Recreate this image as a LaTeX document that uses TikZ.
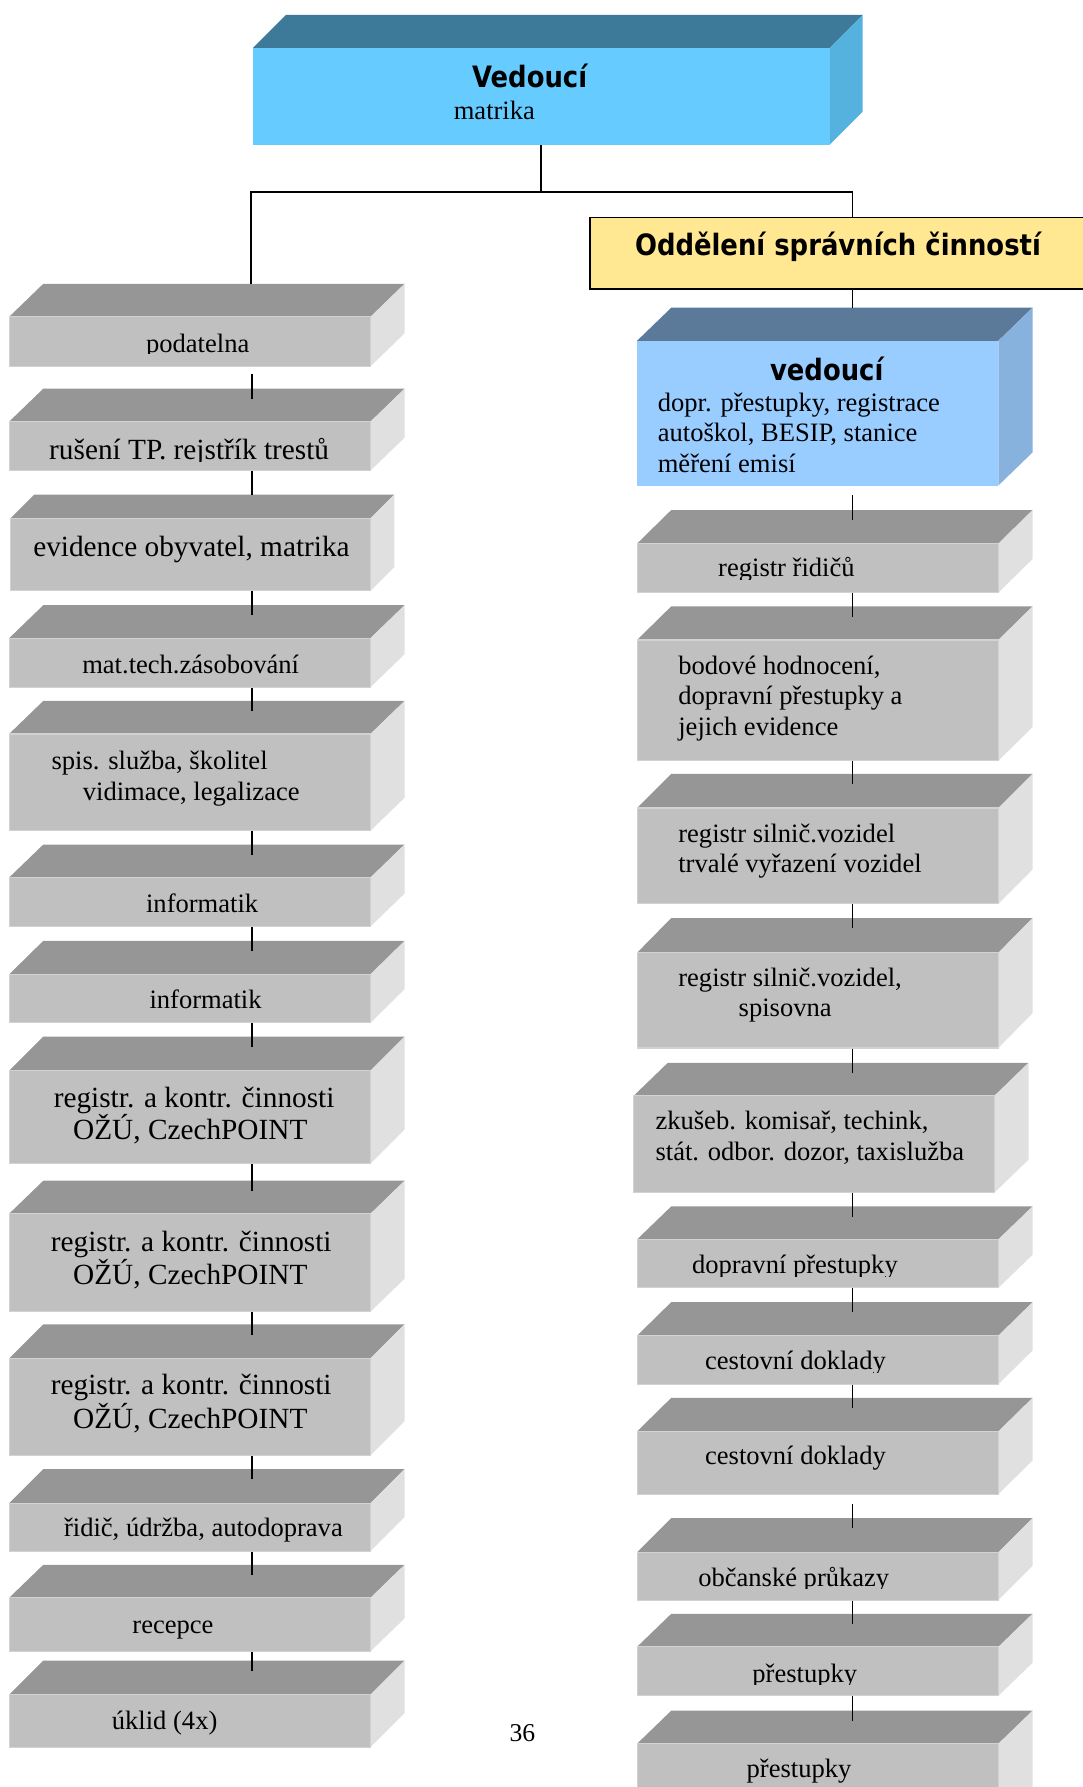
\documentclass[tikz,border=0pt]{standalone}
\usepackage{fontspec}
\setmainfont{Liberation Serif}
\newfontfamily\headfont[FakeStretch=0.88]{DejaVu Sans}
\usetikzlibrary{calc}

\definecolor{slabtop}{HTML}{969696}
\definecolor{slabfront}{HTML}{C0C0C0}
\definecolor{slabside}{HTML}{E0E0E0}
\definecolor{slabedge}{HTML}{D2D2D2}
\definecolor{headtop}{HTML}{3D7A99}
\definecolor{headfront}{HTML}{66CCFF}
\definecolor{headside}{HTML}{55B1DE}
\definecolor{leadtop}{HTML}{5B7A9A}
\definecolor{leadfront}{HTML}{99CCFF}
\definecolor{leadside}{HTML}{88B2DE}
\definecolor{deptfill}{HTML}{FFE891}

% 3-D slab: #1 name, #2 colour set, #3 left x, #4 right x,
% #5 y of back top edge, #6 y of front top edge, #7 y of bottom, #8 depth in x
\newcommand\slab[8]{%
  \fill[#2top] (#3,#6) -- (#3+#8,#5) -- (#4+#8,#5) -- (#4,#6) -- cycle;
  \fill[#2side] (#4,#6) -- (#4+#8,#5) -- (#4+#8,#7+#5-#6) -- (#4,#7) -- cycle;
  \node[#2face, minimum width={(#4-#3)*1pt}, minimum height={(#7-#6)*1pt}]
    (#1) at ({(#3+#4)/2},{(#6+#7)/2}) {};
  \coordinate (#1-b) at (#3,#5);
  \coordinate (#1-t) at (#3,#5+9);
}

\tikzset{
  slabface/.style={fill=slabfront, draw=slabedge, line width=1pt, inner sep=0},
  headface/.style={fill=headfront, inner sep=0},
  leadface/.style={fill=leadfront, inner sep=0},
  dept/.style={fill=deptfill, draw=black, line width=1.5pt, inner sep=0},
  conn/.style={draw=black, line width=1.5pt},
  lbl/.style={anchor=base west, inner sep=0, font=\fontsize{23.3}{28}\selectfont},
  lblL/.style={anchor=base west, inner sep=0, font=\fontsize{25.7}{30}\selectfont},
  hd/.style={anchor=base west, inner sep=0, font=\headfont\bfseries\fontsize{25.8}{30}\selectfont},
}

\begin{document}
\begin{tikzpicture}[x=1pt, y=-1pt]
\useasboundingbox (0,0) rectangle (950,1568);

% head of the office
\slab{top}{head}{222}{728}{13}{42}{127}{29}
\node[hd] (topT1) at (414,76.5) {Vedoucí};
\node[lbl] (topT2) at (398,104.6) {matrika};

% department header
\node[dept, anchor=north west, minimum width=445pt, minimum height=63pt] (dept) at (517,190) {};
\node[hd] (deptT) at (557,224) {Oddělení správních činností};

% left column
\slab{pod}{slab}{8}{325}{249}{278}{321.5}{30}
\slab{rus}{slab}{8}{325}{341}{370}{413}{30}
\slab{evi}{slab}{9}{325}{434}{455}{518.5}{21}
\slab{mat}{slab}{8}{325}{531}{560}{603}{30}
\slab{spis}{slab}{8}{325}{615}{644}{729}{30}
\slab{infa}{slab}{8}{325}{741}{770}{813}{30}
\slab{infb}{slab}{8}{325}{825.5}{855}{897.5}{30}
\slab{rega}{slab}{8}{325}{909.5}{939.5}{1021}{30}
\slab{regb}{slab}{8}{325}{1036}{1065}{1151}{30}
\slab{regc}{slab}{8}{325}{1162}{1192}{1277}{30}
\slab{rid}{slab}{8}{325}{1289}{1319}{1361}{30}
\slab{rec}{slab}{8}{325}{1373}{1402}{1449}{30}
\slab{ukl}{slab}{8}{325}{1457}{1487}{1533}{30}

% right column
\slab{lead}{lead}{559}{876}{270}{299}{426}{30}
\slab{rr}{slab}{559}{876}{447.5}{477}{520}{30}
\slab{bod}{slab}{559}{876}{532}{561.5}{667.5}{30}
\slab{rsva}{slab}{559}{876}{679}{709}{793}{30}
\slab{rsvb}{slab}{559}{876}{805.5}{836}{919.5}{30}
\slab{zku}{slab}{556}{872.5}{932.5}{961.5}{1046.5}{30}
\slab{dop}{slab}{559}{876}{1058.5}{1087.5}{1130}{30}
\slab{cesa}{slab}{559}{876}{1142.5}{1172}{1214.5}{30}
\slab{cesb}{slab}{559}{876}{1226.5}{1256}{1311}{30}
\slab{obc}{slab}{559}{876}{1332}{1362}{1404}{30}
\slab{pra}{slab}{559}{876}{1416}{1445}{1488}{30}
\slab{prb}{slab}{559}{876}{1501}{1530}{1600}{30}

% labels, left column
\begin{scope}
  \clip (0,0) rectangle (950,310.5);
  \node[lbl] (podT) at (128,309) {podatelna};
\end{scope}
\begin{scope}
  \clip (0,0) rectangle (950,404.5);
  \node[lblL] (rusT) at (43,403) {rušení TP. rejstřík trestů};
\end{scope}
\node[lblL] (eviT) at (29,488.5) {evidence obyvatel, matrika};
\node[lbl] (matT) at (72,591) {mat.tech.zásobování};
\node[lbl] (spisT1) at (45,675.5) {spis. služba, školitel};
\node[lbl] (spisT2) at (72.5,702) {vidimace, legalizace};
\node[lbl] (infaT) at (128,801) {informatik};
\node[lbl] (infbT) at (131,885) {informatik};
\node[lblL] (regaT1) at (47,972) {registr. a kontr. činnosti};
\node[lblL] (regaT2) at (64,1000) {OŽÚ, CzechPOINT};
\node[lblL] (regbT1) at (44.5,1098) {registr. a kontr. činnosti};
\node[lblL] (regbT2) at (64,1127) {OŽÚ, CzechPOINT};
\node[lblL] (regcT1) at (44.5,1224) {registr. a kontr. činnosti};
\node[lblL] (regcT2) at (64,1253) {OŽÚ, CzechPOINT};
\node[lbl] (ridT) at (56,1348) {řidič, údržba, autodoprava};
\node[lbl] (recT) at (116,1433) {recepce};
\node[lbl] (uklT) at (98,1517.5) {úklid (4x)};

% labels, right column
\node[hd] (leadT1) at (675.5,334) {vedoucí};
\node[lbl] (leadT2) at (577,361) {dopr. přestupky, registrace};
\node[lbl] (leadT3) at (577,387.5) {autoškol, BESIP, stanice};
\node[lbl] (leadT4) at (577,415) {měření emisí};
\begin{scope}
  \clip (0,0) rectangle (950,508.5);
  \node[lbl] (rrT) at (630,506) {registr řidičů};
\end{scope}
\node[lbl] (bodT1) at (595,592) {bodové hodnocení,};
\node[lbl] (bodT2) at (595,618.5) {dopravní přestupky a};
\node[lbl] (bodT3) at (595,645) {jejich evidence};
\node[lbl] (rsvaT1) at (595,739) {registr silnič.vozidel};
\node[lbl] (rsvaT2) at (595,766) {trvalé vyřazení vozidel};
\node[lbl] (rsvbT1) at (595,866) {registr silnič.vozidel,};
\node[lbl] (rsvbT2) at (648,892) {spisovna};
\node[lbl] (zkuT1) at (575,991.5) {zkušeb. komisař, techink,};
\node[lbl] (zkuT2) at (575,1018.5) {stát. odbor. dozor, taxislužba};
\begin{scope}
  \clip (0,0) rectangle (950,1120);
  \node[lbl] (dopT) at (607,1117) {dopravní přestupky};
\end{scope}
\begin{scope}
  \clip (0,0) rectangle (950,1204.5);
  \node[lbl] (cesaT) at (618.5,1202) {cestovní doklady};
\end{scope}
\node[lbl] (cesbT) at (618.5,1285) {cestovní doklady};
\begin{scope}
  \clip (0,0) rectangle (950,1394);
  \node[lbl] (obcT) at (612.5,1392) {občanské průkazy};
\end{scope}
\begin{scope}
  \clip (0,0) rectangle (950,1478);
  \node[lbl] (praT) at (660,1476) {přestupky};
\end{scope}
\node[lbl] (prbT) at (655,1560) {přestupky};

% page number
\node[anchor=base west, inner sep=0, font=\fontsize{22.5}{27}\selectfont] (page) at (447,1528) {36};

% connectors
\coordinate (split) at (475,168.5);
\coordinate (lx0) at (220,0);
\coordinate (lx) at (221,0);
\coordinate (rx) at (748,0);

\draw[conn] (top.south) -- (split);
\draw[conn] (pod-b -| lx0) |- (split);
\draw[conn] (dept.north -| rx) |- (split);
\draw[conn] (dept.south -| rx) -- (lead-b -| rx);

\draw[conn] ([yshift=-6pt]pod.south -| lx) -- (rus-t -| lx);
\draw[conn] (rus.south -| lx) -- (evi-b -| lx);
\draw[conn] (evi.south -| lx) -- (mat-t -| lx);
\draw[conn] (mat.south -| lx) -- (spis-t -| lx);
\draw[conn] (spis.south -| lx) -- (infa-t -| lx);
\draw[conn] (infa.south -| lx) -- (infb-t -| lx);
\draw[conn] (infb.south -| lx) -- (rega-t -| lx);
\draw[conn] (rega.south -| lx) -- (regb-t -| lx);
\draw[conn] (regb.south -| lx) -- (regc-t -| lx);
\draw[conn] (regc.south -| lx) -- (rid-t -| lx);
\draw[conn] (rid.south -| lx) -- (rec-t -| lx);
\draw[conn] (rec.south -| lx) -- (ukl-t -| lx);

\draw[conn] ([yshift=-8pt]lead.south -| rx) -- (rr-t -| rx);
\draw[conn] (rr.south -| rx) -- (bod-t -| rx);
\draw[conn] (bod.south -| rx) -- (rsva-t -| rx);
\draw[conn] (rsva.south -| rx) -- (rsvb-t -| rx);
\draw[conn] (rsvb.south -| rx) -- (zku-t -| rx);
\draw[conn] (zku.south -| rx) -- (dop-t -| rx);
\draw[conn] (dop.south -| rx) -- (cesa-t -| rx);
\draw[conn] (cesa.south -| rx) -- (cesb-t -| rx);
\draw[conn] ([yshift=-8pt]cesb.south -| rx) -- (obc-t -| rx);
\draw[conn] (obc.south -| rx) -- (pra-t -| rx);
\draw[conn] (pra.south -| rx) -- (prb-t -| rx);
\end{tikzpicture}
\end{document}
